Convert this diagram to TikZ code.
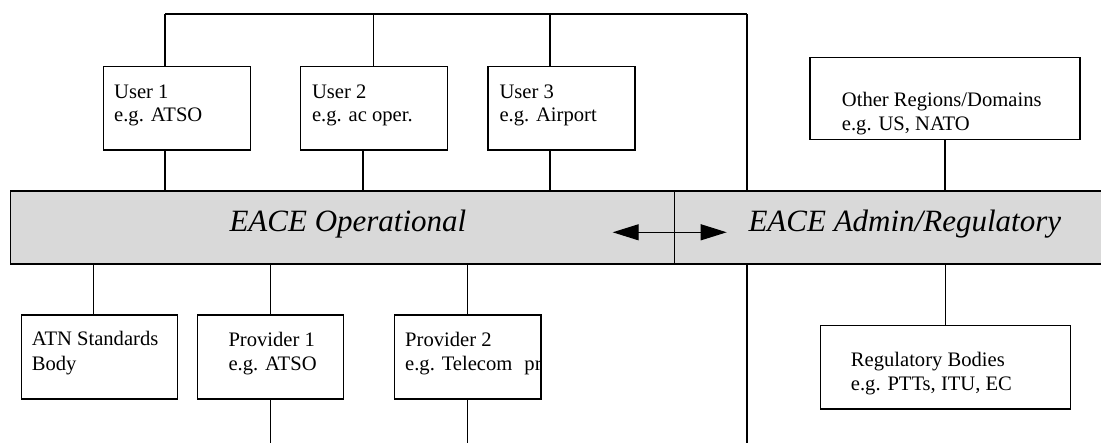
\documentclass[tikz,border=0pt]{standalone}
\usepackage{fontspec}
\setmainfont{Liberation Serif}
\usetikzlibrary{arrows.meta}
\definecolor{barfill}{RGB}{217,217,217}
\tikzset{
  box/.style={draw, line width=1.4pt, fill=white, inner sep=0pt, minimum width=#1},
  box/.default=147pt,
  band/.style={draw, line width=1.3pt, fill=barfill, inner sep=0pt, minimum height=73pt},
  link/.style={line width=1.1pt},
  txt/.style={anchor=base west, inner sep=0pt, font=\fontsize{20.6}{24.5}\selectfont},
  bigtxt/.style={anchor=base west, inner sep=0pt, font=\fontsize{31}{36}\selectfont\itshape},
  twoway/.style={line width=1.1pt, {Triangle[length=26pt,width=16pt]}-{Triangle[length=26pt,width=16pt]}}
}
\begin{document}
\begin{tikzpicture}[x=1pt,y=-1pt]
\clip (0,0) rectangle (1101,443);
\fill[white] (0,0) rectangle (1101,443);

% bus above the user boxes
\coordinate (b1) at (165,14);
\coordinate (b2) at (373.6,14);
\coordinate (b3) at (550,14);
\coordinate (b4) at (747,14);
\coordinate (e4) at (747,446);

% user boxes
\node[box, minimum height=83.3pt] (u1) at (177,108.3) {};
\node[box, minimum height=83.3pt] (u2) at (374,108.3) {};
\node[box, minimum height=83.3pt] (u3) at (561.3,108.3) {};
\node[box=270pt, minimum height=82pt] (oth) at (945,98.3) {};

% the two halves of the band
\node[band, minimum width=663.6pt] (ops) at (342.5,227.5) {};
\node[band, minimum width=460pt] (adm) at (904.3,227.5) {};

% lower boxes
\node[box=155.6pt, minimum height=84pt] (atn) at (99.5,357) {};
\node[box=145.8pt, minimum height=84pt] (p1) at (270.6,357) {};
\node[box=146.7pt, minimum height=84pt] (p2) at (467.7,357) {};
\node[box=250pt, minimum height=83.3pt] (reg) at (945.7,367.3) {};
\coordinate (e1) at (270.6,446);
\coordinate (e2) at (467.7,446);

% connectors
\draw[link] (b1) -- (b4);
\draw[link] (b1) -- (b1 |- u1.north);
\draw[link] (b2) -- (b2 |- u2.north);
\draw[link] (b3) -- (b3 |- u3.north);
\draw[link] (b4) -- (b4 |- adm.north);
\draw[link] (b4 |- adm.south) -- (e4);
\draw[link] (b1 |- u1.south) -- (b1 |- ops.north);
\draw[link] ([xshift=-11pt]u2.south) -- ([xshift=-11pt]u2.south |- ops.north);
\draw[link] (b3 |- u3.south) -- (b3 |- ops.north);
\draw[link] (oth.south) -- (oth.south |- adm.north);
\draw[link] ([xshift=-5.9pt]atn.north) -- ([xshift=-5.9pt]atn.north |- ops.south);
\draw[link] (p1.north) -- (p1.north |- ops.south);
\draw[link] (p2.north) -- (p2.north |- ops.south);
\draw[link] (p1.south) -- (e1);
\draw[link] (p2.south) -- (e2);
\draw[link] (reg.north) -- (reg.north |- adm.south);

% exchange between the two halves
\coordinate (al) at (612.7,232.3);
\coordinate (ar) at (726.7,232.3);
\draw[twoway] (al) -- (ar);

% band labels
\node[bigtxt] (opst) at (229.3,231.7) {EACE Operational};
\node[bigtxt] (admt) at (748.3,231.7) {EACE Admin/Regulatory};

% box texts
\node[txt] (u1a) at (114,98.3) {User 1};
\node[txt] (u1b) at (114,121.7) {e.g. ATSO};
\node[txt] (u2a) at (311.8,98.3) {User 2};
\node[txt] (u2b) at (311.8,121.7) {e.g. ac oper.};
\node[txt] (u3a) at (499.3,98.3) {User 3};
\node[txt] (u3b) at (499.3,121.7) {e.g. Airport};
\node[txt] (otha) at (841.7,106.7) {Other Regions/Domains};
\node[txt] (othb) at (841.7,131) {e.g. US, NATO};
\node[txt] (atna) at (31.7,345.7) {ATN Standards};
\node[txt] (atnb) at (31.7,370.7) {Body};
\node[txt] (p1a) at (228.3,346.3) {Provider 1};
\node[txt] (p1b) at (228.3,371) {e.g. ATSO};
\node[txt] (p2a) at (405,346.7) {Provider 2};
\begin{scope}
  \clip (p2.north west) rectangle (p2.south east);
  \node[txt] (p2b) at (405,371) {e.g. Telecom\hspace{12pt}pr};
\end{scope}
\draw[line width=1.4pt] (p2.north east) -- (p2.south east);
\node[txt] (rega) at (850.7,366.7) {Regulatory Bodies};
\node[txt] (regb) at (850.7,391) {e.g. PTTs, ITU, EC};
\end{tikzpicture}
\end{document}
